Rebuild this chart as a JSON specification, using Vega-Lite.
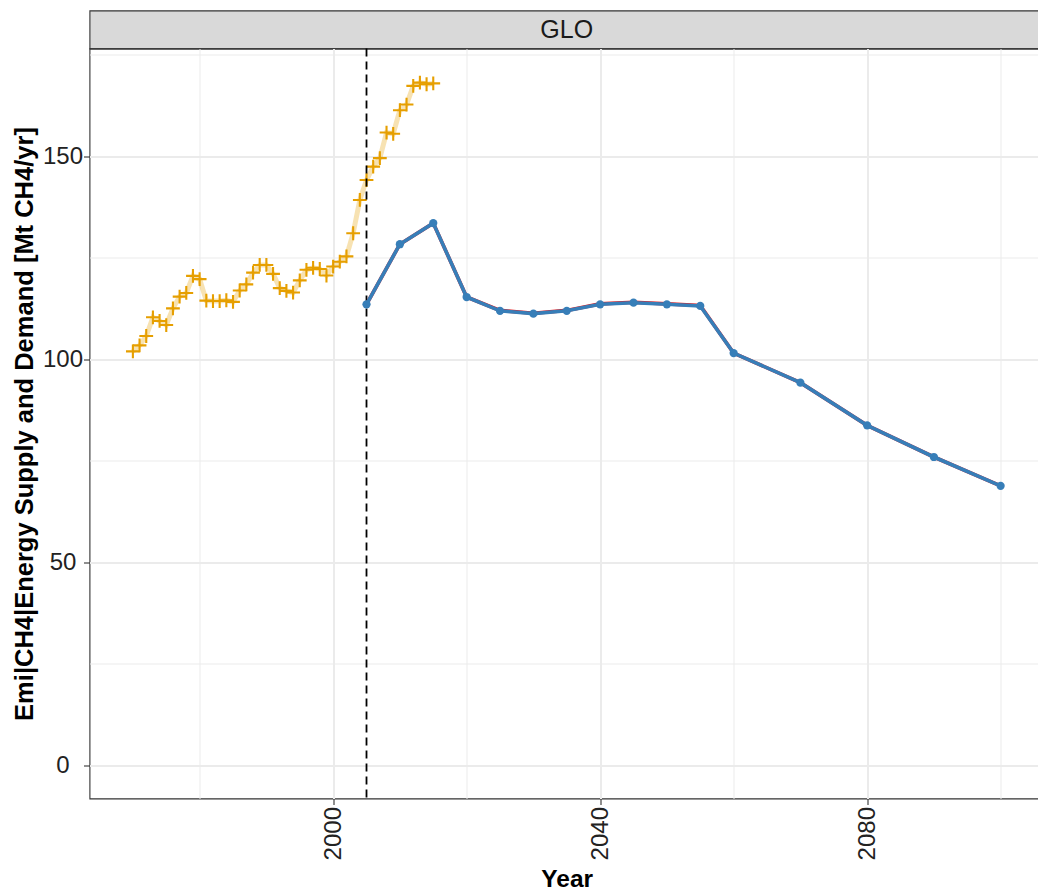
{
  "$schema": "https://vega.github.io/schema/vega-lite/v6.json",
  "background": "white",
  "padding": {"left": 11.5, "top": 9.5, "right": 0, "bottom": 5},
  "spacing": 0,
  "bounds": "flush",
  "config": {"font": "Liberation Sans", "view": {"stroke": null}},
  "datasets": {
    "series": [
      {"source": "historical", "year": 1970, "value": 101.9},
      {"source": "historical", "year": 1971, "value": 103.4},
      {"source": "historical", "year": 1972, "value": 105.7},
      {"source": "historical", "year": 1973, "value": 110.3},
      {"source": "historical", "year": 1974, "value": 109.4},
      {"source": "historical", "year": 1975, "value": 108.4},
      {"source": "historical", "year": 1976, "value": 112.5},
      {"source": "historical", "year": 1977, "value": 115.4},
      {"source": "historical", "year": 1978, "value": 116.3},
      {"source": "historical", "year": 1979, "value": 120.5},
      {"source": "historical", "year": 1980, "value": 119.7},
      {"source": "historical", "year": 1981, "value": 114.4},
      {"source": "historical", "year": 1982, "value": 114.3},
      {"source": "historical", "year": 1983, "value": 114.3},
      {"source": "historical", "year": 1984, "value": 114.5},
      {"source": "historical", "year": 1985, "value": 114.1},
      {"source": "historical", "year": 1986, "value": 116.9},
      {"source": "historical", "year": 1987, "value": 118.4},
      {"source": "historical", "year": 1988, "value": 121.3},
      {"source": "historical", "year": 1989, "value": 123.2},
      {"source": "historical", "year": 1990, "value": 123.2},
      {"source": "historical", "year": 1991, "value": 121.0},
      {"source": "historical", "year": 1992, "value": 117.5},
      {"source": "historical", "year": 1993, "value": 116.8},
      {"source": "historical", "year": 1994, "value": 116.4},
      {"source": "historical", "year": 1995, "value": 119.4},
      {"source": "historical", "year": 1996, "value": 122.0},
      {"source": "historical", "year": 1997, "value": 122.5},
      {"source": "historical", "year": 1998, "value": 122.2},
      {"source": "historical", "year": 1999, "value": 120.6},
      {"source": "historical", "year": 2000, "value": 122.8},
      {"source": "historical", "year": 2001, "value": 124.0},
      {"source": "historical", "year": 2002, "value": 125.3},
      {"source": "historical", "year": 2003, "value": 131.0},
      {"source": "historical", "year": 2004, "value": 139.2},
      {"source": "historical", "year": 2005, "value": 144.1},
      {"source": "historical", "year": 2006, "value": 147.4},
      {"source": "historical", "year": 2007, "value": 149.5},
      {"source": "historical", "year": 2008, "value": 155.8},
      {"source": "historical", "year": 2009, "value": 155.5},
      {"source": "historical", "year": 2010, "value": 161.3},
      {"source": "historical", "year": 2011, "value": 162.7},
      {"source": "historical", "year": 2012, "value": 167.3},
      {"source": "historical", "year": 2013, "value": 168.1},
      {"source": "historical", "year": 2014, "value": 167.7},
      {"source": "historical", "year": 2015, "value": 167.9},
      {"source": "model A", "year": 2005, "value": 113.5},
      {"source": "model A", "year": 2010, "value": 128.3},
      {"source": "model A", "year": 2015, "value": 133.5},
      {"source": "model A", "year": 2020, "value": 115.3},
      {"source": "model A", "year": 2025, "value": 112.0},
      {"source": "model A", "year": 2030, "value": 111.3},
      {"source": "model A", "year": 2035, "value": 112.0},
      {"source": "model A", "year": 2040, "value": 113.6},
      {"source": "model A", "year": 2045, "value": 114.0},
      {"source": "model A", "year": 2050, "value": 113.6},
      {"source": "model A", "year": 2055, "value": 113.2},
      {"source": "model A", "year": 2060, "value": 101.5},
      {"source": "model A", "year": 2070, "value": 94.2},
      {"source": "model A", "year": 2080, "value": 83.7},
      {"source": "model A", "year": 2090, "value": 75.9},
      {"source": "model A", "year": 2100, "value": 68.8},
      {"source": "model B", "year": 2005, "value": 113.5},
      {"source": "model B", "year": 2010, "value": 128.3},
      {"source": "model B", "year": 2015, "value": 133.5},
      {"source": "model B", "year": 2020, "value": 115.3},
      {"source": "model B", "year": 2025, "value": 111.9},
      {"source": "model B", "year": 2030, "value": 111.2},
      {"source": "model B", "year": 2035, "value": 111.9},
      {"source": "model B", "year": 2040, "value": 113.5},
      {"source": "model B", "year": 2045, "value": 113.9},
      {"source": "model B", "year": 2050, "value": 113.5},
      {"source": "model B", "year": 2055, "value": 113.1},
      {"source": "model B", "year": 2060, "value": 101.5},
      {"source": "model B", "year": 2070, "value": 94.2},
      {"source": "model B", "year": 2080, "value": 83.7},
      {"source": "model B", "year": 2090, "value": 75.9},
      {"source": "model B", "year": 2100, "value": 68.8}
    ],
    "strip": [{"region": "GLO"}],
    "ref": [{"year": 2005}]
  },
  "vconcat": [
    {
      "data": {"name": "strip"},
      "width": 954.5,
      "height": 38,
      "view": {"fill": "#D9D9D9", "stroke": "#333333", "strokeWidth": 1.1},
      "mark": {"type": "text", "fontSize": 25, "color": "#1A1A1A"},
      "encoding": {"text": {"field": "region", "type": "nominal"}}
    },
    {
      "width": 954.5,
      "height": 750,
      "view": {"stroke": "#333333", "strokeWidth": 1.1},
      "resolve": {"axis": {"x": "independent", "y": "independent"}},
      "layer": [
        {
          "data": {"name": "series"},
          "transform": [{"filter": "datum.source == 'historical'"}],
          "mark": {"type": "line", "strokeWidth": 5, "opacity": 0.3},
          "encoding": {
            "x": {"field": "year", "type": "quantitative",
              "scale": {"domain": [1963.5, 2106.5], "nice": false, "zero": false},
              "axis": {"orient": "bottom", "values": [1980, 2020, 2060, 2100], "grid": true, "gridColor": "#EBEBEB", "gridWidth": 1, "labels": false, "ticks": false, "domain": false, "title": null}},
            "y": {"field": "value", "type": "quantitative",
              "scale": {"domain": [-8.2, 176.5], "nice": false, "zero": false},
              "axis": {"orient": "left", "values": [25, 75, 125, 175], "grid": true, "gridColor": "#EBEBEB", "gridWidth": 1, "labels": false, "ticks": false, "domain": false, "title": null}},
            "color": {"field": "source", "type": "nominal", "scale": {"domain": ["historical", "model A", "model B"], "range": ["#E69F00", "#E41A1C", "#377EB8"]}, "legend": null}
          }
        },
        {
          "data": {"name": "series"},
          "transform": [{"filter": "datum.source == 'historical'"}],
          "mark": {"type": "point", "shape": "M-1,0L1,0M0,-1L0,1", "filled": false, "size": 190, "strokeWidth": 2.1, "opacity": 1},
          "encoding": {
            "x": {"field": "year", "type": "quantitative",
              "scale": {"domain": [1963.5, 2106.5], "nice": false, "zero": false},
              "axis": {"orient": "bottom", "values": [2000, 2040, 2080], "format": "d", "grid": true, "gridColor": "#EBEBEB", "gridWidth": 2, "domain": false,
                "ticks": true, "tickSize": 6, "tickWidth": 1.1, "tickColor": "#333333",
                "labelAngle": -90, "labelAlign": "right", "labelBaseline": "middle", "labelFontSize": 24, "labelColor": "#222222", "labelPadding": 2,
                "title": "Year", "titleFontSize": 24.5, "titleFontWeight": "bold", "titleColor": "#000000", "titlePadding": 8}},
            "y": {"field": "value", "type": "quantitative",
              "scale": {"domain": [-8.2, 176.5], "nice": false, "zero": false},
              "axis": {"orient": "left", "values": [0, 50, 100, 150], "grid": true, "gridColor": "#EBEBEB", "gridWidth": 2, "domain": false,
                "ticks": true, "tickSize": 6, "tickWidth": 1.1, "tickColor": "#333333",
                "labelAlign": "center", "labelBaseline": "middle", "labelFontSize": 24, "labelColor": "#222222", "labelPadding": 21,
                "title": "Emi|CH4|Energy Supply and Demand [Mt CH4/yr]", "titleFontSize": 25.5, "titleFontWeight": "bold", "titleColor": "#000000", "titlePadding": 5}},
            "color": {"field": "source", "type": "nominal", "scale": {"domain": ["historical", "model A", "model B"], "range": ["#E69F00", "#E41A1C", "#377EB8"]}, "legend": null}
          }
        },
        {
          "data": {"name": "ref"},
          "mark": {"type": "rule", "color": "#000000", "strokeWidth": 1.8, "strokeDash": [8, 5]},
          "encoding": {
            "x": {"field": "year", "type": "quantitative", "scale": {"domain": [1963.5, 2106.5], "nice": false, "zero": false}, "axis": null}
          }
        },
        {
          "data": {"name": "series"},
          "transform": [{"filter": "datum.source == 'model A'"}],
          "mark": {"type": "line", "strokeWidth": 3.6},
          "encoding": {
            "x": {"field": "year", "type": "quantitative", "scale": {"domain": [1963.5, 2106.5], "nice": false, "zero": false}, "axis": null},
            "y": {"field": "value", "type": "quantitative", "scale": {"domain": [-8.2, 176.5], "nice": false, "zero": false}, "axis": null},
            "color": {"field": "source", "type": "nominal", "scale": {"domain": ["historical", "model A", "model B"], "range": ["#E69F00", "#E41A1C", "#377EB8"]}, "legend": null}
          }
        },
        {
          "data": {"name": "series"},
          "transform": [{"filter": "datum.source == 'model B'"}],
          "mark": {"type": "line", "strokeWidth": 3.6, "point": {"filled": true, "size": 68, "opacity": 1}},
          "encoding": {
            "x": {"field": "year", "type": "quantitative", "scale": {"domain": [1963.5, 2106.5], "nice": false, "zero": false}, "axis": null},
            "y": {"field": "value", "type": "quantitative", "scale": {"domain": [-8.2, 176.5], "nice": false, "zero": false}, "axis": null},
            "color": {"field": "source", "type": "nominal", "scale": {"domain": ["historical", "model A", "model B"], "range": ["#E69F00", "#E41A1C", "#377EB8"]}, "legend": null}
          }
        }
      ]
    }
  ]
}
